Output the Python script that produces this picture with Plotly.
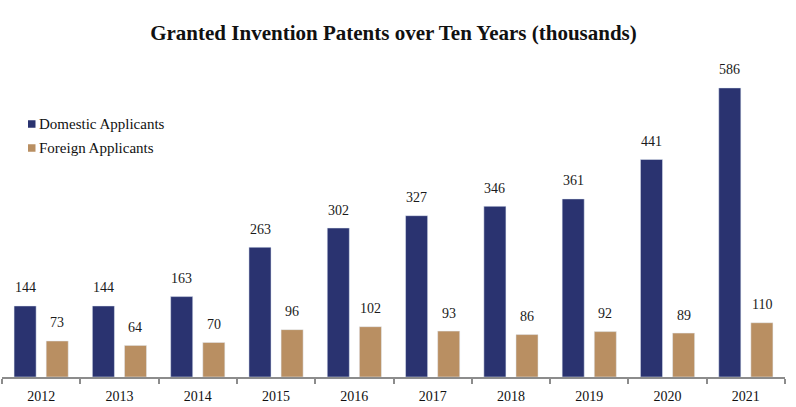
import plotly.graph_objects as go

years = ["2012", "2013", "2014", "2015", "2016", "2017", "2018", "2019", "2020", "2021"]
domestic = [144, 144, 163, 263, 302, 327, 346, 361, 441, 586]
foreign = [73, 64, 70, 96, 102, 93, 86, 92, 89, 110]
series_names = ["Domestic Applicants", "Foreign Applicants"]
colors = ["#2A3370", "#B98F62"]

font_family = "Liberation Serif, DejaVu Serif, serif"

# plot area geometry in pixels
W, H = 796, 407
L, R, T, B = 2, 11, 81, 30
pw, ph = W - L - R, H - T - B

def px_x(px):
    return (px - L) / pw

def px_y(py):
    return (H - B - py) / ph

fig = go.Figure()
for name, vals, col in zip(series_names, [domestic, foreign], colors):
    fig.add_trace(go.Bar(x=years, y=vals, name=name, marker=dict(color=col),
                         showlegend=False, hoverinfo="skip"))

# value labels above bars (category axis: annotation x is the category index)
for vals, shift in [(domestic, -16), (foreign, 16)]:
    for idx, v in enumerate(vals):
        fig.add_annotation(x=idx, y=v, xref="x", yref="y", text=str(v), showarrow=False,
                           xshift=shift, yshift=18, yanchor="middle",
                           font=dict(family=font_family, size=14, color="#1a1a1a"))

# custom legend
for i, (name, col) in enumerate(zip(series_names, colors)):
    cy = 124 + i * 24
    fig.add_shape(type="rect", xref="paper", yref="paper",
                  x0=px_x(28), x1=px_x(35.5), y0=px_y(cy + 3.75), y1=px_y(cy - 3.75),
                  fillcolor=col, line=dict(width=0))
    fig.add_annotation(xref="paper", yref="paper", x=px_x(37), y=px_y(cy),
                       text=name, showarrow=False, xanchor="left", yanchor="middle",
                       font=dict(family=font_family, size=15, color="#111111"))

fig.update_layout(
    width=W, height=H,
    margin=dict(l=L, r=R, t=T, b=B),
    paper_bgcolor="white", plot_bgcolor="white",
    barmode="group", bargap=0.18, bargroupgap=0.3125,
    title=dict(
        text="<b>Granted Invention Patents over Ten Years (thousands)</b>",
        x=393.5 / W, xanchor="center", y=1 - 33 / H, yanchor="middle",
        font=dict(family=font_family, size=21, color="#111111"),
    ),
    font=dict(family=font_family, size=14, color="#111111"),
    showlegend=False,
)
fig.update_xaxes(
    type="category", categoryorder="array", categoryarray=years,
    range=[-0.5, len(years) - 0.5],
    showline=True, linecolor="#8c8c8c", linewidth=1.5,
    ticks="outside", tickson="boundaries", ticklen=5, tickcolor="#8c8c8c", tickwidth=1.5,
    tickfont=dict(family=font_family, size=14, color="#111111"),
    ticklabelstandoff=5,
    showgrid=False, fixedrange=True,
)
fig.update_yaxes(visible=False, range=[0, 600], showgrid=False, fixedrange=True)

fig.write_html("out.html", config={"displayModeBar": False},
               post_script="document.body.style.margin='0px';")
